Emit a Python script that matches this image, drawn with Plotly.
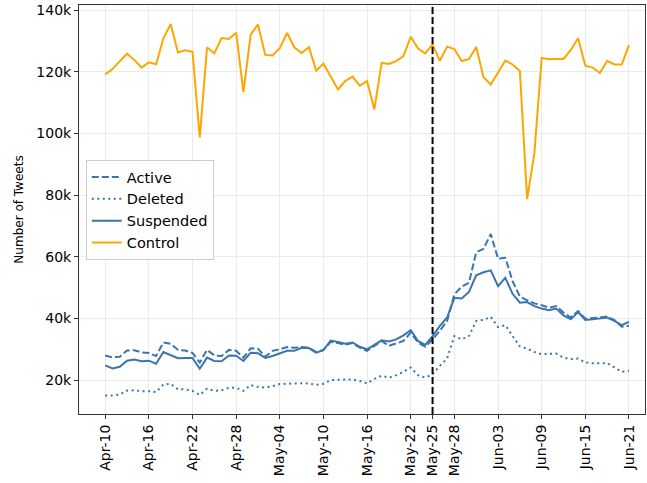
import pandas as pd
import plotly.graph_objects as go

start_date = "2020-04-10"
n_days = 73
dates = pd.date_range(start_date, periods=n_days, freq="D")

control = [119.2, 120.9, 123.4, 125.9, 123.9, 121.4, 123.1, 122.5, 130.9, 135.5,
           126.3, 127.0, 126.5, 98.7, 128.0, 126.0, 131.0, 130.7, 132.7, 113.4,
           132.1, 135.4, 125.5, 125.3, 127.7, 132.6, 128.0, 126.1, 128.0, 120.4,
           122.7, 118.6, 114.3, 117.0, 118.5, 115.5, 117.0, 107.8, 122.9, 122.6,
           123.5, 125.1, 131.4, 127.6, 126.0, 128.9, 123.6, 128.2, 127.4, 123.5,
           124.1, 128.1, 118.3, 115.9, 119.6, 123.7, 122.4, 120.3, 78.7, 93.7,
           124.5, 124.1, 124.2, 124.2, 127.1, 130.9, 122.0, 121.4, 119.6, 123.6,
           122.4, 122.4, 128.7]

active = [28.0, 27.4, 27.6, 29.6, 29.7, 29.0, 28.8, 27.8, 32.2, 31.8,
          29.8, 29.6, 28.8, 25.7, 29.8, 28.0, 27.8, 29.8, 29.5, 27.3,
          30.3, 30.2, 27.6, 29.5, 30.0, 30.7, 30.5, 30.7, 30.5, 29.1,
          29.8, 32.4, 32.0, 31.5, 32.0, 30.5, 29.5, 31.1, 32.7, 31.1,
          32.0, 32.7, 35.4, 32.2, 30.8, 33.2, 36.0, 39.2, 47.8, 50.3,
          51.6, 61.5, 62.6, 67.4, 59.4, 59.7, 52.1, 47.1, 45.9, 44.9,
          44.3, 43.5, 44.0, 41.9, 40.3, 42.4, 39.9, 40.0, 40.3, 40.6,
          39.5, 37.3, 37.6]

suspended = [24.8, 23.8, 24.3, 26.3, 26.7, 26.1, 26.3, 25.3, 29.1, 28.0,
             27.1, 27.2, 27.2, 23.7, 27.3, 26.2, 26.1, 28.0, 27.9, 26.2,
             28.9, 28.7, 27.2, 27.8, 28.7, 29.5, 29.5, 30.5, 30.4, 28.9,
             29.7, 32.8, 32.4, 31.8, 32.2, 30.8, 30.0, 31.5, 32.9, 32.5,
             33.2, 34.5, 36.2, 32.7, 31.4, 34.3, 37.6, 40.3, 46.7, 46.5,
             48.6, 54.0, 55.0, 55.6, 50.5, 53.2, 48.0, 45.1, 45.3, 44.0,
             43.2, 42.7, 43.2, 41.0, 39.7, 42.1, 39.5, 39.7, 39.9, 40.3,
             39.2, 37.8, 38.9]

deleted = [15.0, 15.0, 15.3, 16.6, 16.7, 16.4, 16.4, 16.1, 18.6, 18.8,
           17.0, 17.0, 16.5, 15.2, 17.2, 16.5, 16.7, 17.5, 17.5, 16.5,
           18.4, 17.8, 17.6, 18.0, 18.7, 18.9, 18.9, 19.0, 18.9, 18.5,
           18.8, 20.0, 20.2, 20.2, 20.2, 19.7, 18.9, 20.4, 21.4, 20.8,
           21.6, 22.7, 24.1, 21.6, 20.8, 21.9, 24.6, 27.0, 34.3, 33.2,
           34.3, 39.2, 39.5, 40.5, 37.2, 37.8, 34.3, 30.9, 30.2, 29.1,
           28.4, 28.4, 28.6, 27.3, 26.8, 27.0, 25.7, 25.5, 25.5, 25.5,
           24.1, 22.7, 23.0]

tick_dates = ["2020-04-10", "2020-04-16", "2020-04-22", "2020-04-28", "2020-05-04",
              "2020-05-10", "2020-05-16", "2020-05-22", "2020-05-25", "2020-05-28",
              "2020-06-03", "2020-06-09", "2020-06-15", "2020-06-21"]
tick_labels = ["Apr-10", "Apr-16", "Apr-22", "Apr-28", "May-04", "May-10", "May-16",
               "May-22", "May-25", "May-28", "Jun-03", "Jun-09", "Jun-15", "Jun-21"]
y_ticks = [20000, 40000, 60000, 80000, 100000, 120000, 140000]
y_labels = ["20k", "40k", "60k", "80k", "100k", "120k", "140k"]
event_date = "2020-05-25"

BLUE = "#3a75ad"
ORANGE = "#ffa500"

fig = go.Figure()
series = [
    ("Active", active, BLUE, "7px,3px"),
    ("Deleted", deleted, BLUE, "2px,3.5px"),
    ("Suspended", suspended, BLUE, "solid"),
    ("Control", control, ORANGE, "solid"),
]
for name, vals, col, dash in series:
    fig.add_trace(go.Scatter(
        x=dates, y=[v * 1000 for v in vals], mode="lines", name=name,
        line=dict(color=col, width=2, dash=dash),
    ))

fig.add_shape(type="line", xref="x", yref="paper", x0=event_date, x1=event_date,
              y0=0, y1=1, line=dict(color="black", width=2, dash="7px,3px"))

x0 = pd.Timestamp(start_date) - pd.Timedelta(days=3.6)
x1 = pd.Timestamp(start_date) + pd.Timedelta(days=74.2)

fig.update_layout(
    width=647, height=483,
    margin=dict(l=79, r=2, t=5, b=69),
    paper_bgcolor="white", plot_bgcolor="white",
    font=dict(family="DejaVu Sans", size=14, color="black"),
    showlegend=True,
    legend=dict(x=0.012, y=0.621, xanchor="left", yanchor="top",
                bgcolor="rgba(255,255,255,0.8)", bordercolor="#cccccc", borderwidth=1,
                font=dict(size=14.5)),
)
fig.update_xaxes(
    range=[x0, x1], tickvals=tick_dates, ticktext=tick_labels, tickangle=-90,
    automargin=False, tickfont=dict(size=14),
    showline=True, linecolor="#333333", linewidth=1, mirror=True,
    ticks="outside", ticklen=4, tickcolor="#333333",
    showgrid=True, gridcolor="#ebebeb", gridwidth=1, zeroline=False,
)
fig.update_yaxes(
    range=[9000, 141700], tickvals=y_ticks, ticktext=y_labels,
    automargin=False, tickfont=dict(size=14),
    title=dict(text="Number of Tweets", standoff=10, font=dict(size=12)),
    showline=True, linecolor="#333333", linewidth=1, mirror=True,
    ticks="outside", ticklen=4, tickcolor="#333333",
    showgrid=True, gridcolor="#ebebeb", gridwidth=1, zeroline=False,
)

fig.write_html("out.html", config={"displayModeBar": False},
               post_script="document.body.style.margin='0px';document.body.style.overflow='hidden';")
